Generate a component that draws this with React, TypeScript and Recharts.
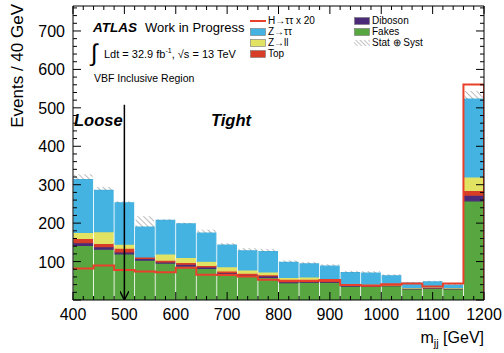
import React from "react";
import { ComposedChart, Bar, Line, XAxis, YAxis, ReferenceLine } from "recharts";

// m_jj bins, 40 GeV wide (last bin holds the overflow)
const BIN_CENTERS = [420, 460, 500, 540, 580, 620, 660, 700, 740, 780, 820, 860, 900, 940, 980, 1020, 1060, 1100, 1140, 1180];
const BIN_EDGES = [400, 440, 480, 520, 560, 600, 640, 680, 720, 760, 800, 840, 880, 920, 960, 1000, 1040, 1080, 1120, 1160, 1200];

const FAKES = [142, 132, 120, 104, 96, 88, 82, 68, 63, 59, 45, 46, 46, 36, 36, 37, 29, 31, 29, 258];
const DIBOSON = [7, 7, 5, 4, 3, 5, 4, 3, 2, 4, 3, 2, 2, 2, 1, 1, 1, 1, 1, 15];
const TOP = [11, 8, 10, 4, 5, 5, 4, 5, 5, 3, 4, 3, 3, 2, 2, 2, 1, 1, 1, 12];
const ZLL = [16, 31, 10, 0, 16, 13, 11, 11, 8, 7, 7, 9, 2, 2, 2, 1, 1, 1, 1, 35];
const ZTT = [137, 107, 108, 78, 87, 87, 73, 56, 50, 53, 39, 34, 35, 29, 29, 22, 12, 13, 7, 203];
const UNC = [14, 9, 4, 28, 3, 3, 9, 5, 7, 7, 5, 5, 5, 5, 5, 4, 3, 3, 3, 21];
const SIGNAL = [82, 90, 78, 74, 72, 84, 66, 65, 61, 53, 50, 50, 52, 39, 38, 41, 43, 35, 43, 561];

const X_MAJOR = [400, 500, 600, 700, 800, 900, 1000, 1100, 1200];
const X_MINOR = [420, 440, 460, 480, 520, 540, 560, 580, 620, 640, 660, 680, 720, 740, 760, 780, 820, 840, 860, 880, 920, 940, 960, 980, 1020, 1040, 1060, 1080, 1120, 1140, 1160, 1180];
const Y_MAJOR = [0, 100, 200, 300, 400, 500, 600, 700];
const Y_LABELS = [100, 200, 300, 400, 500, 600, 700];
const Y_MINOR = [20, 40, 60, 80, 120, 140, 160, 180, 220, 240, 260, 280, 320, 340, 360, 380, 420, 440, 460, 480, 520, 540, 560, 580, 620, 640, 660, 680, 720, 740, 760];
const Y_MAX = 765;
const CUT = 500;

const X_TICKS = [...X_MAJOR, ...X_MINOR].sort((a, b) => a - b);
const Y_TICKS = [...Y_MAJOR, ...Y_MINOR].sort((a, b) => a - b);

const W = 504;
const H = 353;
const MARGIN = { top: 5, right: 19, bottom: 52, left: 72 };
const PLOT_W = W - MARGIN.left - MARGIN.right - 2; // minus the 1px axes
const BAR_W = PLOT_W / BIN_CENTERS.length;

const C = {
  ztt: "#44b3e1",
  zll: "#e2e263",
  top: "#d73d27",
  dib: "#4b2b79",
  fakes: "#57a640",
  sig: "#e8402a",
};

const FONT = '"Liberation Sans", Arial, Helvetica, sans-serif';

const bins = BIN_CENTERS.map((c, i) => ({
  bin: c,
  fakes: FAKES[i],
  diboson: DIBOSON[i],
  top: TOP[i],
  zll: ZLL[i],
  ztt: ZTT[i],
  unc: UNC[i],
}));

// step line: value at each lower edge, drop to zero at the last edge
const signalSteps = BIN_EDGES.map((x, i) => ({ bin: x, sig: i < SIGNAL.length ? SIGNAL[i] : 0 }));

// ROOT style ticks, pointing into the frame
function BottomTick({ x, y, payload }: any) {
  const major = X_MAJOR.includes(payload.value);
  return (
    <g>
      <line x1={x} x2={x} y1={y} y2={y - (major ? 8 : 4)} stroke="#000" strokeWidth={1} />
      {major && (
        <text x={x} y={y + 20} textAnchor="middle" fontSize={16} fontFamily={FONT} fill="#000">
          {payload.value}
        </text>
      )}
    </g>
  );
}
function TopTick({ x, y, payload }: any) {
  const major = X_MAJOR.includes(payload.value);
  return <line x1={x} x2={x} y1={y} y2={y + (major ? 8 : 4)} stroke="#000" strokeWidth={1} />;
}
function LeftTick({ x, y, payload }: any) {
  const major = Y_MAJOR.includes(payload.value);
  return (
    <g>
      <line x1={x} x2={x + (major ? 8 : 4)} y1={y} y2={y} stroke="#000" strokeWidth={1} />
      {Y_LABELS.includes(payload.value) && (
        <text x={x - 8} y={y + 6} textAnchor="end" fontSize={16} fontFamily={FONT} fill="#000">
          {payload.value}
        </text>
      )}
    </g>
  );
}
function RightTick({ x, y, payload }: any) {
  const major = Y_MAJOR.includes(payload.value);
  return <line x1={x} x2={x - (major ? 8 : 4)} y1={y} y2={y} stroke="#000" strokeWidth={1} />;
}

function Swatch({ color, hatch, line }: { color?: string; hatch?: boolean; line?: boolean }) {
  return (
    <svg width={16} height={8} style={{ display: "block" }}>
      <defs>
        <pattern id="lgHatch" width={3} height={3} patternUnits="userSpaceOnUse" patternTransform="rotate(-45)">
          <line x1={0} y1={0} x2={0} y2={3} stroke="#555" strokeWidth={0.7} />
        </pattern>
      </defs>
      {line ? (
        <line x1={0} y1={4} x2={16} y2={4} stroke={C.sig} strokeWidth={2} />
      ) : hatch ? (
        <rect x={0} y={1} width={16} height={6} fill="url(#lgHatch)" />
      ) : (
        <rect x={0.5} y={0.5} width={15} height={7} fill={color} stroke="#777" strokeWidth={0.6} />
      )}
    </svg>
  );
}

function LegendItem({ x, y, label, ...rest }: any) {
  return (
    <div style={{ position: "absolute", left: x, top: y - 6, display: "flex", alignItems: "center", gap: 2, fontSize: 10, lineHeight: "12px", fontFamily: FONT }}>
      <Swatch {...rest} />
      <span>{label}</span>
    </div>
  );
}

function Txt({ x, y, size, children, style }: any) {
  // y is the baseline
  return (
    <div style={{ position: "absolute", left: x, top: y - 0.847 * size, fontSize: size, lineHeight: 1, fontFamily: FONT, whiteSpace: "nowrap", ...style }}>
      {children}
    </div>
  );
}

export default function App() {
  return (
    <div style={{ position: "absolute", left: 0, top: 0, width: W, height: H, background: "#fff", fontFamily: FONT, overflow: "hidden" }}>
      <ComposedChart width={W} height={H} data={bins} margin={MARGIN} barCategoryGap={0} barGap={0}>
        <defs>
          <pattern id="hatch" width={4} height={4} patternUnits="userSpaceOnUse" patternTransform="rotate(-45)">
            <line x1={0} y1={0} x2={0} y2={4} stroke="#555" strokeWidth={0.8} />
          </pattern>
          <marker id="arrowHead" viewBox="0 0 10 10" refX={9} refY={5} markerWidth={6} markerHeight={6} orient="auto">
            <path d="M0,0 L10,5 L0,10" fill="none" stroke="#000" strokeWidth={1.5} />
          </marker>
        </defs>

        {/* hidden axis with one tick per bin edge, so bars get the full bin width */}
        <XAxis xAxisId="bars" dataKey="bin" type="number" domain={[400, 1200]} allowDataOverflow ticks={BIN_EDGES} interval={0} height={0} hide />
        <XAxis
          xAxisId="x"
          dataKey="bin"
          type="number"
          domain={[400, 1200]}
          allowDataOverflow
          ticks={X_TICKS}
          interval={0}
          height={1}
          tickSize={0}
          tickMargin={0}
          tickLine={false}
          tick={<BottomTick />}
          axisLine={{ stroke: "#000" }}
        />
        <XAxis
          xAxisId="top"
          dataKey="bin"
          type="number"
          orientation="top"
          domain={[400, 1200]}
          allowDataOverflow
          ticks={X_TICKS}
          interval={0}
          height={1}
          tickSize={0}
          tickMargin={0}
          tickLine={false}
          tick={<TopTick />}
          axisLine={{ stroke: "#000" }}
        />
        <YAxis
          yAxisId="y"
          type="number"
          domain={[0, Y_MAX]}
          allowDataOverflow
          ticks={Y_TICKS}
          interval={0}
          width={1}
          tickSize={0}
          tickMargin={0}
          tickLine={false}
          tick={<LeftTick />}
          axisLine={{ stroke: "#000" }}
        />
        <YAxis
          yAxisId="r"
          type="number"
          orientation="right"
          domain={[0, Y_MAX]}
          allowDataOverflow
          ticks={Y_TICKS}
          interval={0}
          width={1}
          tickSize={0}
          tickMargin={0}
          tickLine={false}
          tick={<RightTick />}
          axisLine={{ stroke: "#000" }}
        />

        {/* a stroke in the fill colour closes the sub-pixel seams between bins */}
        <Bar xAxisId="bars" yAxisId="y" dataKey="fakes" stackId="s" barSize={BAR_W} fill={C.fakes} stroke={C.fakes} strokeWidth={1.2} isAnimationActive={false} />
        <Bar xAxisId="bars" yAxisId="y" dataKey="diboson" stackId="s" barSize={BAR_W} fill={C.dib} stroke={C.dib} strokeWidth={1.2} isAnimationActive={false} />
        <Bar xAxisId="bars" yAxisId="y" dataKey="top" stackId="s" barSize={BAR_W} fill={C.top} stroke={C.top} strokeWidth={1.2} isAnimationActive={false} />
        <Bar xAxisId="bars" yAxisId="y" dataKey="zll" stackId="s" barSize={BAR_W} fill={C.zll} stroke={C.zll} strokeWidth={1.2} isAnimationActive={false} />
        <Bar xAxisId="bars" yAxisId="y" dataKey="ztt" stackId="s" barSize={BAR_W} fill={C.ztt} stroke={C.ztt} strokeWidth={1.2} isAnimationActive={false} />
        <Bar xAxisId="bars" yAxisId="y" dataKey="unc" stackId="s" barSize={BAR_W} fill="url(#hatch)" isAnimationActive={false} />

        {/* invisible series so the mirrored frame axes get a domain */}
        <Line xAxisId="top" yAxisId="r" dataKey="fakes" stroke="none" dot={false} activeDot={false} legendType="none" isAnimationActive={false} />

        <Line
          xAxisId="x"
          yAxisId="y"
          data={signalSteps}
          dataKey="sig"
          type="stepAfter"
          stroke={C.sig}
          strokeWidth={2}
          dot={false}
          activeDot={false}
          isAnimationActive={false}
        />

        <ReferenceLine
          xAxisId="x"
          yAxisId="y"
          segment={[{ x: CUT, y: 508 }, { x: CUT, y: 2 }]}
          stroke="#000"
          strokeWidth={1.5}
          markerEnd="url(#arrowHead)"
          ifOverflow="visible"
        />
      </ComposedChart>

      {/* labels */}
      <Txt x={93} y={32} size={13.5} style={{ fontWeight: "bold", fontStyle: "italic" }}>ATLAS</Txt>
      <Txt x={145} y={32} size={13}>Work in Progress</Txt>
      <Txt x={91} y={61} size={24} style={{ fontWeight: 300 }}>∫</Txt>
      <Txt x={104} y={56} size={11}>
        Ldt = 32.9 fb<sup style={{ fontSize: 7 }}>-1</sup>, √s = 13 TeV
      </Txt>
      <Txt x={94} y={82} size={10.5}>VBF Inclusive Region</Txt>

      <Txt x={74} y={126} size={16.5} style={{ fontWeight: "bold", fontStyle: "italic" }}>Loose</Txt>
      <Txt x={211} y={126} size={16.5} style={{ fontWeight: "bold", fontStyle: "italic" }}>Tight</Txt>

      <LegendItem x={250} y={21} line label="H→ττ x 20" />
      <LegendItem x={250} y={32} color={C.ztt} label="Z→ττ" />
      <LegendItem x={250} y={43} color={C.zll} label="Z→ll" />
      <LegendItem x={250} y={54} color={C.top} label="Top" />
      <LegendItem x={354} y={21} color={C.dib} label="Diboson" />
      <LegendItem x={354} y={32} color={C.fakes} label="Fakes" />
      <LegendItem x={354} y={43} hatch label="Stat ⊕ Syst" />

      <div
        style={{
          position: "absolute",
          left: 18,
          top: 4,
          transform: "rotate(-90deg)",
          transformOrigin: "0 0",
          fontSize: 17,
          lineHeight: 1,
          fontFamily: FONT,
          whiteSpace: "nowrap",
          width: 130,
          textAlign: "right",
          translate: "-9px 130px",
        }}
      >
        Events / 40 GeV
      </div>

      <div style={{ position: "absolute", right: 20, top: 330, fontSize: 16, lineHeight: 1, fontFamily: FONT, whiteSpace: "nowrap" }}>
        m<sub style={{ fontSize: 11, verticalAlign: "-4px" }}>jj</sub> [GeV]
      </div>
    </div>
  );
}
